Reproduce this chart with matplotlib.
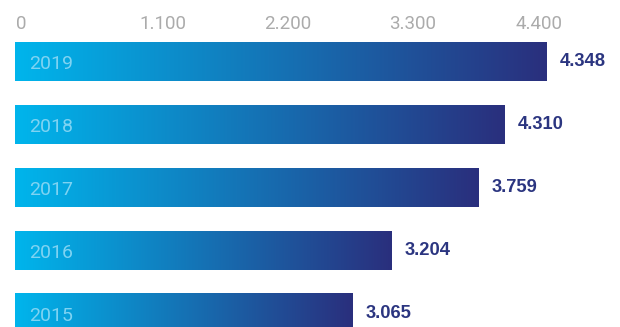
import matplotlib.pyplot as plt
import numpy as np
from matplotlib.colors import LinearSegmentedColormap

# ---- data ----
years = ['2019', '2018', '2017', '2016', '2015']
values = [4348, 4310, 3759, 3204, 3065]
# bar lengths as drawn in the picture (axis units)
bar_len = [4467, 4114, 3896, 3165, 2838]
tick_labels = ['0', '1.100', '2.200', '3.300', '4.400']
tick_pos = [0, 1243, 2292, 3342, 4400]

# ---- style ----
c_left = '#00b5ec'
c_right = '#2a2f7d'
c_value = '#2b3580'
c_year = '#7fd3f2'
c_tick = '#ababab'
cmap = LinearSegmentedColormap.from_list('blues', [c_left, c_right])
grad = np.linspace(0, 1, 256).reshape(1, -1)

fig = plt.figure(figsize=(6.2, 3.27), dpi=100)
ax = fig.add_axes([0, 0, 1, 1])
ax.axis('off')

y = np.arange(len(years))
bars = ax.barh(y, bar_len, height=0.62, color='none', edgecolor='none')

for i, b in enumerate(bars):
    x0, y0 = b.get_x(), b.get_y()
    w, h = b.get_width(), b.get_height()
    ax.imshow(grad, cmap=cmap, aspect='auto', interpolation='bilinear',
              extent=(x0, x0 + w, y0 + h, y0), zorder=2)
    ax.text(118, y[i] + 0.04, years[i], color=c_year, fontsize=14,
            family='Roboto', fontweight='normal', va='center', ha='left', zorder=3)
    ax.text(x0 + w + 105, y[i], f'{values[i]:,}'.replace(',', '.'),
            color=c_value, fontsize=13.2, family='Liberation Sans',
            fontweight='bold', va='center', ha='left', zorder=3)

# axis labels along the top
for p, lab in zip(tick_pos, tick_labels):
    ax.text(p + (50 if p == 0 else 0), -0.596, lab, color=c_tick, fontsize=13.5,
            family='Roboto', fontweight='normal', va='center', ha='center')

ax.set_xlim(-126, 5080)
ax.set_ylim(4.221, -0.978)

fig.savefig('out.png', dpi=100)
